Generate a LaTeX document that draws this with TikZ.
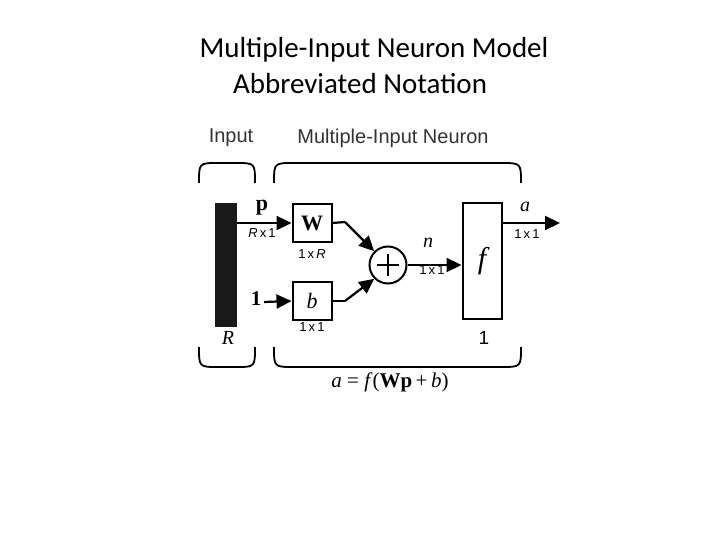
\documentclass[tikz,border=0pt]{standalone}
\usepackage{fontspec}
\setmainfont{Carlito}
\newfontfamily\hv{Liberation Sans}
\newfontfamily\tms{Liberation Serif}
\usetikzlibrary{arrows.meta}
\begin{document}
\begin{tikzpicture}[x=1pt,y=-1pt,
  arr/.style={-{Triangle[length=15pt,width=14pt]},line width=2.2pt},
  blk/.style={draw,line width=2pt,minimum width=39pt,minimum height=38pt,inner sep=0},
  brc/.style={line width=1.8pt},
  sm/.style={font=\hv\fontsize{13}{13}\selectfont},
  hd/.style={font=\hv\fontsize{20}{20}\selectfont,text=black!80}]
\useasboundingbox (0,0) rectangle (720,540);
\node[font=\fontsize{29}{32}\selectfont] (t1) at (374,50) {Multiple-Input Neuron Model};
\node[font=\fontsize{29}{32}\selectfont] (t2) at (360,84) {Abbreviated Notation};
\node[hd] (lin) at (231,138) {Input};
\node[hd] (lmi) at (393,138) {Multiple-Input Neuron};
% braces
\draw[brc] (199,183) .. controls (199,163) .. (218,163) -- (236,163) .. controls (255,163) .. (255,183);
\draw[brc] (274,183) .. controls (274,163) .. (294,163) -- (501,163) .. controls (521,163) .. (521,183);
\draw[brc] (199,347) .. controls (199,367) .. (218,367) -- (236,367) .. controls (255,367) .. (255,347);
\draw[brc] (274,347) .. controls (274,367) .. (294,367) -- (501,367) .. controls (521,367) .. (521,347);
% blocks
\node[fill=black!90,minimum width=22pt,minimum height=124pt,inner sep=0] (bar) at (226,265) {};
\node[blk] (W) at (312,223) {\tms\bfseries\fontsize{22}{22}\selectfont W};
\node[blk] (b) at (312,301) {\tms\itshape\fontsize{22}{22}\selectfont b};
\node[draw,circle,line width=2pt,minimum size=37pt,inner sep=0] (sum) at (388,265) {};
\draw[line width=1.3pt] ([xshift=-11pt]sum.center) -- ([xshift=11pt]sum.center)
  ([yshift=-11pt]sum.center) -- ([yshift=11pt]sum.center);
\node[draw,line width=2pt,minimum width=39pt,minimum height=115pt,inner sep=0] (f) at (482,261) {\tms\itshape\fontsize{30}{30}\selectfont f};
\coordinate (one) at (264,302);
\coordinate (out) at (560,223);
\coordinate (wj) at (345,222);
\coordinate (bj) at (345,301);
% connectors
\draw[arr] (bar.east|-W) -- (W.west);
\draw[arr] (one) -- (b.west);
\draw[line width=2.2pt] (W.east) -- (wj);
\draw[arr] (wj) -- (sum.135);
\draw[line width=2.2pt] (b.east) -- (bj);
\draw[arr] (bj) -- (sum.225);
\draw[arr] (sum.east) -- (f.west|-sum);
\draw[arr] (f.east|-out) -- (out);
% labels
\node[font=\tms\bfseries\fontsize{22}{22}\selectfont] (lp) at (262,208) {p};
\node[sm] (lrx1) at (262,233) {\textit{R}\,x\,1};
\node[sm] (l1xr) at (312,254) {1\,x\,\textit{R}};
\node[font=\tms\bfseries\fontsize{21}{21}\selectfont] (l1) at (256,299) {1};
\node[sm] (l1x1b) at (312,327) {1\,x\,1};
\node[font=\tms\itshape\fontsize{20}{20}\selectfont] (ln) at (428,243) {n};
\node[sm] (l1x1n) at (432,270) {1\,x\,1};
\node[font=\tms\itshape\fontsize{20}{20}\selectfont] (la) at (525,207) {a};
\node[sm] (l1x1a) at (527,234) {1\,x\,1};
\node[font=\tms\itshape\fontsize{20}{20}\selectfont] (lR) at (228,338) {R};
\node[font=\hv\fontsize{19}{19}\selectfont] (l1f) at (484,338) {1};
\node[font=\tms\fontsize{21}{21}\selectfont] (eq) at (390,382) {\textit{a} = \textit{f}(\textbf{Wp}\,+\,\textit{b})};
\end{tikzpicture}
\end{document}
